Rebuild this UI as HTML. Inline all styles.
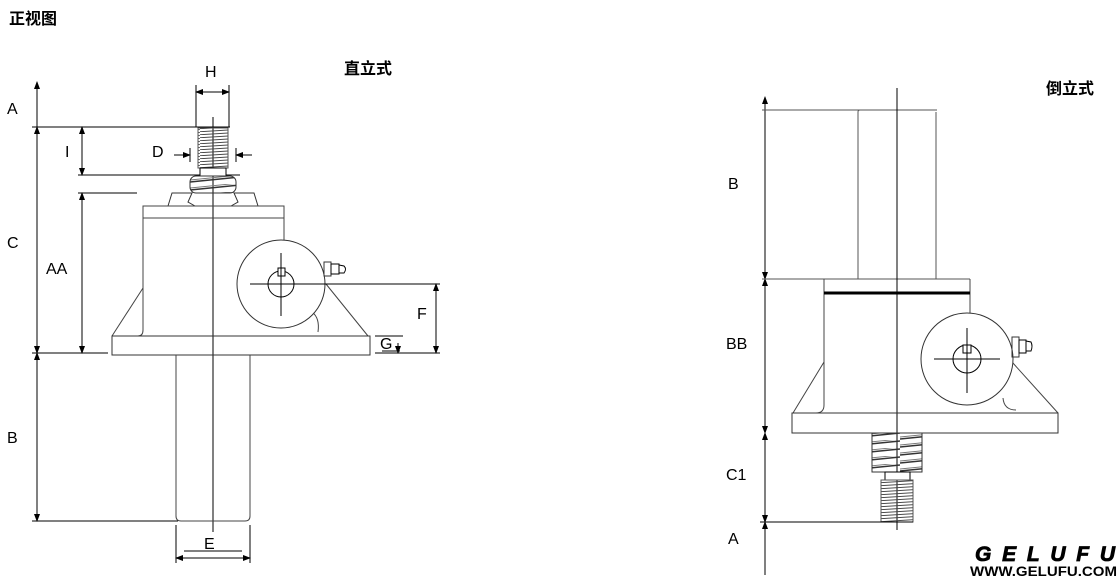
<!DOCTYPE html>
<html><head><meta charset="utf-8"><style>
html,body{margin:0;padding:0;background:#fff;width:1119px;height:577px;overflow:hidden}
svg{display:block}
text{font-family:"Liberation Sans","Noto Sans CJK SC",sans-serif;fill:#000}
</style></head><body>
<svg width="1119" height="577" viewBox="0 0 1119 577" xmlns="http://www.w3.org/2000/svg">
<defs>
<pattern id="th" patternUnits="userSpaceOnUse" width="40" height="3">
<line x1="0" y1="2.7" x2="40" y2="0.3" stroke="#444" stroke-width="1"/>
</pattern>
<pattern id="th2" patternUnits="userSpaceOnUse" width="60" height="8">
<line x1="0" y1="7" x2="60" y2="1" stroke="#333" stroke-width="1.5"/>
<line x1="0" y1="5" x2="60" y2="-1" stroke="#777" stroke-width="0.9"/>
</pattern>
<marker id="ar" markerWidth="8" markerHeight="6" refX="7" refY="3" orient="auto-start-reverse" markerUnits="userSpaceOnUse">
<path d="M0,0 L8,3 L0,6 z" fill="#000"/>
</marker>
</defs>

<text x="9" y="24" font-size="16" font-weight="bold">正视图</text>
<text x="344" y="74" font-size="16" font-weight="bold">直立式</text>
<text x="1046" y="94" font-size="16" font-weight="bold">倒立式</text>

<g stroke="#000" stroke-width="1" fill="none">
<line x1="37" y1="82" x2="37" y2="127" marker-start="url(#ar)"/>
<line x1="37" y1="127" x2="37" y2="353" marker-start="url(#ar)" marker-end="url(#ar)"/>
<line x1="37" y1="353" x2="37" y2="521" marker-start="url(#ar)" marker-end="url(#ar)"/>
<line x1="32" y1="127" x2="230" y2="127"/>
<line x1="32" y1="353" x2="108" y2="353"/>
<line x1="32" y1="521" x2="178" y2="521"/>
<line x1="82" y1="127" x2="82" y2="175" marker-start="url(#ar)" marker-end="url(#ar)"/>
<line x1="78" y1="175" x2="240" y2="175"/>
<line x1="78" y1="193" x2="137" y2="193"/>
<line x1="82" y1="193" x2="82" y2="353" marker-start="url(#ar)" marker-end="url(#ar)"/>
<line x1="196" y1="85" x2="196" y2="127"/>
<line x1="229" y1="85" x2="229" y2="127"/>
<line x1="196" y1="92" x2="229" y2="92" marker-start="url(#ar)" marker-end="url(#ar)"/>
<line x1="190" y1="148" x2="190" y2="162"/>
<line x1="236" y1="148" x2="236" y2="162"/>
<line x1="174" y1="155" x2="190" y2="155" marker-end="url(#ar)"/>
<line x1="252" y1="155" x2="236" y2="155" marker-end="url(#ar)"/>
<line x1="213" y1="117" x2="213" y2="532"/>
<rect x="198" y="128" width="30" height="40" fill="url(#th)" stroke="#555"/>
<rect x="200" y="168" width="26" height="8" fill="#fff"/>
<rect x="190" y="176" width="46" height="17" rx="6" fill="url(#th2)" stroke="#333"/>
<path d="M168,206 L172,193 L192,193 L188,202 L195,206 M258,206 L254,193 L234,193 L238,202 L231,206" stroke="#333"/>
<rect x="143" y="206" width="141" height="12" stroke="#444"/>
<path d="M143,218 L143,330 Q143,336 138,336 M284,218 L284,240" stroke="#444"/>
<path d="M143,288 L112,336 M326,284 L368,336" stroke="#444"/>
<path d="M318,332 Q320,318 312,312" stroke="#444"/>
<circle cx="281" cy="284" r="44" fill="#fff" stroke="#333"/>
<circle cx="281" cy="284" r="13"/>
<rect x="278" y="268" width="7" height="8" fill="#fff"/>
<line x1="281" y1="253" x2="281" y2="316"/>
<line x1="250" y1="284" x2="440" y2="284"/>
<rect x="324" y="262" width="7" height="14" stroke="#333"/>
<rect x="331" y="264" width="8" height="10"/>
<path d="M339,265 L344,266 Q347,269 344,273 L339,273"/>
<rect x="112" y="336" width="258" height="19" stroke="#333"/>
<path d="M176,355 L176,516 Q176,521 181,521 L245,521 Q250,521 250,516 L250,355" stroke="#444"/>
<line x1="176" y1="525" x2="176" y2="563"/>
<line x1="250" y1="525" x2="250" y2="563"/>
<line x1="184" y1="551" x2="242" y2="551"/>
<line x1="176" y1="558" x2="250" y2="558" marker-start="url(#ar)" marker-end="url(#ar)"/>
<line x1="436" y1="284" x2="436" y2="353" marker-start="url(#ar)" marker-end="url(#ar)"/>
<line x1="375" y1="353" x2="440" y2="353"/>
<line x1="375" y1="336" x2="403" y2="336"/>
<line x1="382" y1="351" x2="400" y2="351"/>
<line x1="398" y1="343" x2="398" y2="353" marker-end="url(#ar)"/>

<line x1="765" y1="97" x2="765" y2="279" marker-start="url(#ar)" marker-end="url(#ar)"/>
<line x1="765" y1="279" x2="765" y2="433" marker-start="url(#ar)" marker-end="url(#ar)"/>
<line x1="765" y1="433" x2="765" y2="522" marker-start="url(#ar)" marker-end="url(#ar)"/>
<line x1="765" y1="522" x2="765" y2="575" marker-start="url(#ar)"/>
<line x1="762" y1="110" x2="937" y2="110" stroke="#555"/>
<path d="M858,279 L858,112 Q858,110 860,110 M936,279 L936,112" stroke="#555"/>
<line x1="762" y1="279" x2="970" y2="279" stroke="#555"/>
<line x1="897" y1="88" x2="897" y2="530"/>
<path d="M824,279 L824,405 Q824,413 816,413 M970,279 L970,313" stroke="#444"/>
<line x1="824" y1="293" x2="970" y2="293" stroke-width="3"/>
<path d="M824,362 L793,413 M1012,362 L1058,413" stroke="#444"/>
<path d="M1016,410 Q1004,410 1003,398" stroke="#444"/>
<circle cx="967" cy="359" r="46" fill="#fff" stroke="#333"/>
<circle cx="967" cy="359" r="14"/>
<rect x="963" y="345" width="8" height="8" fill="#fff"/>
<line x1="967" y1="328" x2="967" y2="393"/>
<line x1="934" y1="359" x2="1000" y2="359"/>
<rect x="1012" y="337" width="7" height="20" stroke="#333"/>
<rect x="1019" y="340" width="7" height="13"/>
<path d="M1026,341 L1031,342 Q1033,346 1031,351 L1026,351"/>
<rect x="792" y="413" width="266" height="20" stroke="#333"/>
<rect x="872" y="433" width="50" height="39" fill="url(#th2)" stroke="#333"/>
<rect x="885" y="472" width="25" height="8" fill="#fff"/>
<rect x="881" y="480" width="32" height="42" fill="url(#th)" stroke="#555"/>
<line x1="760" y1="522" x2="913" y2="522"/>
</g>

<g font-size="16">
<text x="7" y="114">A</text>
<text x="65" y="157">I</text>
<text x="152" y="157">D</text>
<text x="7" y="248">C</text>
<text x="46" y="274">AA</text>
<text x="7" y="443">B</text>
<text x="417" y="319">F</text>
<text x="380" y="349">G</text>
<text x="204" y="549">E</text>
<text x="205" y="77">H</text>
<text x="728" y="189">B</text>
<text x="726" y="349">BB</text>
<text x="726" y="480">C1</text>
<text x="728" y="544">A</text>
</g>
<text x="975" y="561" font-size="21" font-weight="900" font-style="italic" textLength="140" lengthAdjust="spacing" stroke="#000" stroke-width="0.8">GELUFU</text>
<text x="970" y="576" font-size="14" font-weight="bold" textLength="147" lengthAdjust="spacingAndGlyphs">WWW.GELUFU.COM</text>
</svg>
</body></html>
